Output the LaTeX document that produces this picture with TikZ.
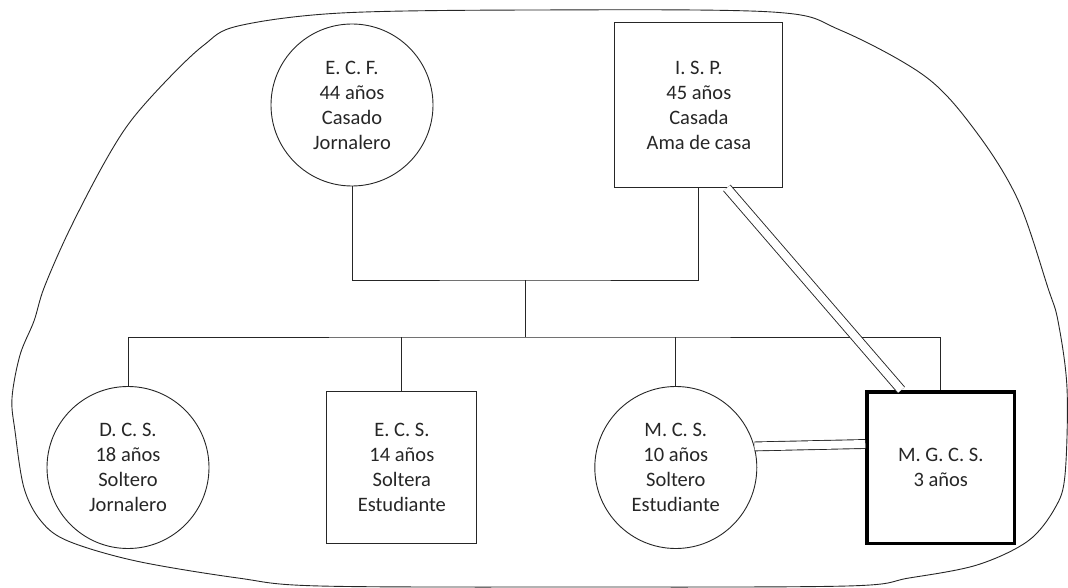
\documentclass[tikz,border=0pt]{standalone}
\usepackage{fontspec}
\setmainfont{Carlito}
\usepackage{tikz}
\usetikzlibrary{positioning}
\definecolor{cA}{HTML}{262626}
\tikzset{
  circ/.style={circle,draw=cA,line width=0.9pt,minimum size=162pt,
              inner sep=0pt,align=center},
  sqbox/.style={rectangle,draw=cA,line width=0.9pt,inner sep=0pt,
              align=center},
  idx/.style={sqbox,draw=black,line width=3.5pt},
  link/.style={draw=cA,line width=0.9pt},
  dbl/.style={draw=cA,line width=0.9pt,double,double distance=8pt},
  hull/.style={draw=cA,line width=0.9pt},
}

\begin{document}
\begin{tikzpicture}[x=1pt,y=-1pt,
  every node/.style={font=\fontsize{20.5}{25}\selectfont,text=cA}]
  \useasboundingbox (0,0) rectangle (1068,588);
  \node[circ](ecf) at (352,105){E. C. F.\\44 años\\Casado\\Jornalero};
  \node[sqbox,minimum width=168pt,minimum height=165pt,right=181pt of ecf](isp)
    {I. S. P.\\45 años\\Casada\\Ama de casa};
  \node[circ](dcs) at (128,467.5){D. C. S.\\18 años\\Soltero\\Jornalero};
  \node[sqbox,minimum width=150pt,minimum height=152pt,right=117pt of dcs](ecs)
    {E. C. S.\\14 años\\Soltera\\Estudiante};
  \node[circ,right=117pt of ecs](mcs){M. C. S.\\10 años\\Soltero\\Estudiante};
  \node[idx,minimum width=147.5pt,minimum height=151.5pt,right=108pt of mcs](mgcs)
    {M. G. C. S.\\3 años};
  \coordinate(cpl) at (525,280);
  \coordinate(sib) at (525,337);
  \draw[link](ecf.south)|-(cpl)-|(isp.south);
  \draw[link](cpl)--(sib);
  \draw[link](dcs.north)|-(sib)-|(mgcs.north);
  \draw[link](ecs.north)--(ecs.north|-sib);
  \draw[link](mcs.north)--(mcs.north|-sib);
  \draw[dbl]([xshift=28pt]isp.south)--([xshift=-39.5pt]mgcs.north);
  \draw[dbl](mcs.15)--([yshift=23.5pt]mgcs.west);
  \draw[hull] plot[smooth cycle,tension=.55] coordinates{
    (534,10) (772,12) (840,30) (926,77) (977,133) (1018,200) (1048,288)
    (1058,321) (1067,388) (1065,475) (1055,508) (1028,541) (977,565)
    (909,578) (847,586) (580,587) (320,586) (238,578) (136,561) (68,541)
    (41,521) (24,488) (15,431) (12,398) (20,355) (34,321) (44,288)
    (68,233) (102,167) (130,122) (167,80) (204,45) (238,26)
    (341,13)};
\end{tikzpicture}
\end{document}
